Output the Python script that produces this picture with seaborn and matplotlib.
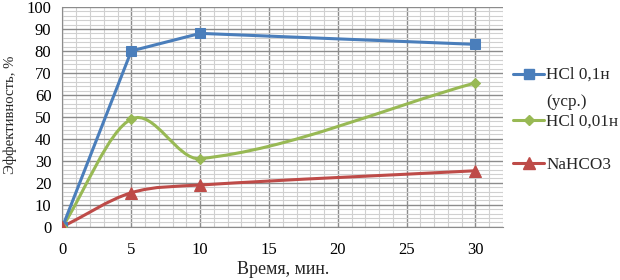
import numpy as np
import pandas as pd
import matplotlib
matplotlib.use("Agg")
import matplotlib.pyplot as plt
from matplotlib.path import Path
from matplotlib.patches import PathPatch
from matplotlib.lines import Line2D
from matplotlib.legend_handler import HandlerLine2D
from matplotlib.ticker import MultipleLocator
import seaborn as sns

# ---- data ----
time_min = [0, 5, 10, 30]
hcl_01 = [0, 80, 88, 83]
hcl_001 = [0, 49, 31, 65.5]
nahco3 = [0, 15.5, 19, 25.5]
labels = ["HCl 0,1н\n(уср.)", "HCl 0,01н", "NaHCO3"]
x_ticks = [0, 5, 10, 15, 20, 25, 30]
y_ticks = [0, 10, 20, 30, 40, 50, 60, 70, 80, 90, 100]

sns.set_style("white")
plt.rcParams['font.family'] = ['Liberation Serif', 'DejaVu Serif']

c_blue = "#4A7EBB"
c_green = "#98B954"
c_red = "#BE4B48"

fig = plt.figure(figsize=(6.2, 2.8), dpi=100)
ax = fig.add_axes([0.1008, 0.190, 0.7105, 0.785])

df = pd.DataFrame({"t": time_min, "a": hcl_01, "b": hcl_001, "c": nahco3})


def smooth_path(xs, ys):
    """Smoothed line through the points (cubic Hermite, as Bezier path)."""
    x = np.asarray(xs, float)
    y = np.asarray(ys, float)
    n = len(x)
    m = np.zeros(n)
    for i in range(n):
        if i == 0:
            m[i] = (y[1] - y[0]) / (x[1] - x[0])
        elif i == n - 1:
            m[i] = (y[-1] - y[-2]) / (x[-1] - x[-2])
        else:
            m[i] = (y[i + 1] - y[i - 1]) / (x[i + 1] - x[i - 1])
    verts = [(x[0], y[0])]
    codes = [Path.MOVETO]
    for i in range(n - 1):
        h = x[i + 1] - x[i]
        verts += [(x[i] + h / 3, y[i] + m[i] * h / 3),
                  (x[i + 1] - h / 3, y[i + 1] - m[i + 1] * h / 3),
                  (x[i + 1], y[i + 1])]
        codes += [Path.CURVE4] * 3
    return Path(verts, codes)


# blue: straight segments
sns.lineplot(data=df, x="t", y="a", ax=ax, color=c_blue, lw=2.2,
             marker="s", markersize=7, markeredgecolor=c_blue, zorder=5)
# green and red: smoothed lines
for col, color, mk, ms in [("b", c_green, "D", 5.5), ("c", c_red, "^", 8)]:
    ax.add_patch(PathPatch(smooth_path(df["t"], df[col]), facecolor="none",
                           edgecolor=color, lw=2.2, zorder=4,
                           transform=ax.transData))
    sns.lineplot(data=df, x="t", y=col, ax=ax, color=color, linestyle="none",
                 marker=mk, markersize=ms, markeredgecolor=color, zorder=6)

ax.set_xlim(0, 32)
ax.set_ylim(0, 100)
ax.set_xticks(x_ticks)
ax.set_yticks(y_ticks)
ax.xaxis.set_minor_locator(MultipleLocator(1))
ax.yaxis.set_minor_locator(MultipleLocator(2))
ax.grid(which="major", color="#8C8C8C", lw=1.0, zorder=1)
ax.grid(which="minor", color="#D0D0D0", lw=0.8, zorder=0)
ax.set_axisbelow(True)
for s in ax.spines.values():
    s.set_visible(False)
ax.spines["left"].set_visible(True)
ax.spines["left"].set_color("#8C8C8C")
ax.spines["bottom"].set_visible(True)
ax.spines["bottom"].set_color("#8C8C8C")
ax.tick_params(axis="both", which="both", length=0, labelsize=12,
               colors="black")
ax.tick_params(axis="x", pad=11)
ax.tick_params(axis="y", pad=8)
ax.set_xlabel("Время, мин.", fontsize=13, labelpad=2)
ax.set_ylabel("Эффективность, %", fontsize=10.6)
ax.yaxis.set_label_coords(-0.103, 0.508)


class UpHandler(HandlerLine2D):
    def __init__(self, shift=0, **kw):
        super().__init__(**kw)
        self.shift = shift

    def create_artists(self, legend, orig_handle, xdescent, ydescent, width,
                       height, fontsize, trans):
        return super().create_artists(legend, orig_handle, xdescent,
                                      ydescent - self.shift, width, height,
                                      fontsize, trans)


handles = [
    Line2D([], [], color=c_blue, lw=2.2, marker="s", markersize=7),
    Line2D([], [], color=c_green, lw=2.2, marker="D", markersize=5.5),
    Line2D([], [], color=c_red, lw=2.2, marker="^", markersize=8),
]
legend_y = [0.684, 0.5654, 0.411]
for i, (h, lab, yy) in enumerate(zip(handles, labels, legend_y)):
    hmap = {h: UpHandler(shift=20.5)} if i == 0 else None
    leg = fig.legend([h], [lab], loc="center left", bbox_to_anchor=(0.828, yy),
                     frameon=False, fontsize=12.3, handlelength=1.8,
                     handletextpad=0.12, borderpad=0, borderaxespad=0,
                     handler_map=hmap)
    for t in leg.get_texts():
        t.set_linespacing(2.0)

fig.savefig("out.png", dpi=100)
